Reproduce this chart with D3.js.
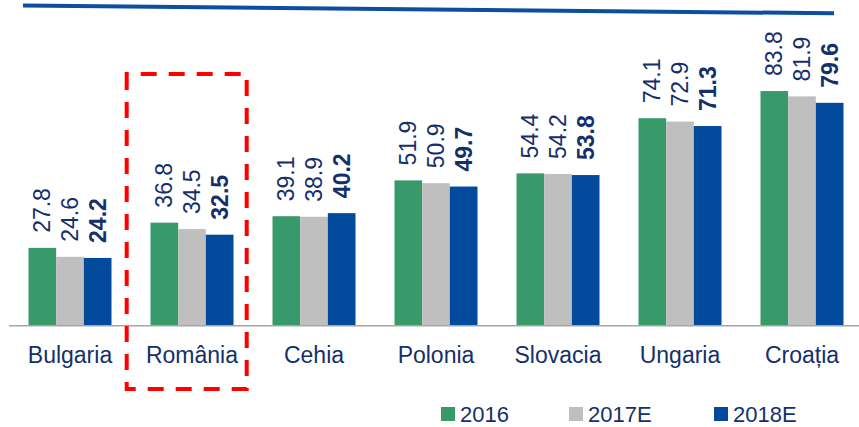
<!DOCTYPE html>
<html>
<head>
<meta charset="utf-8">
<script src="https://cdn.jsdelivr.net/npm/d3@7"></script>
<style>
  body { margin: 0; background: #fff; }
  text { font-family: "Liberation Sans", Arial, sans-serif; }
</style>
</head>
<body>
<div id="chart"></div>
<script>
const categories = ["Bulgaria", "România", "Cehia", "Polonia", "Slovacia", "Ungaria", "Croația"];
const seriesNames = ["2016", "2017E", "2018E"];
const values2016 = [27.8, 36.8, 39.1, 51.9, 54.4, 74.1, 83.8];
const values2017E = [24.6, 34.5, 38.9, 50.9, 54.2, 72.9, 81.9];
const values2018E = [24.2, 32.5, 40.2, 49.7, 53.8, 71.3, 79.6];
const seriesColors = ["#38996A", "#BFBFBF", "#024A9C"];

const width = 859, height = 427;
const textColor = "#14306B";

const svg = d3.select("#chart").append("svg")
  .attr("width", width)
  .attr("height", height);

// decorative header line (slightly tilted, as in the slide)
svg.append("line")
  .attr("x1", 23).attr("y1", 5.5)
  .attr("x2", 834).attr("y2", 13.3)
  .attr("stroke", "#0B4EA2")
  .attr("stroke-width", 4);

const x = d3.scaleBand().domain(categories).range([9, 863]).padding(0);
const x1 = d3.scaleBand().domain(seriesNames).range([-41.5, 41.5]).padding(0);
const y = d3.scaleLinear().domain([0, 100]).range([325.7, 45.7]);

const table = categories.map((c, i) => ({
  category: c,
  vals: [values2016[i], values2017E[i], values2018E[i]]
}));

const groups = svg.selectAll(".group")
  .data(table)
  .enter().append("g")
  .attr("class", "group")
  .attr("transform", d => `translate(${x(d.category) + x.bandwidth() / 2},0)`);

// bars
groups.selectAll("rect")
  .data(d => d.vals.map((v, j) => ({ v, j })))
  .enter().append("rect")
  .attr("x", d => x1(seriesNames[d.j]))
  .attr("width", x1.bandwidth())
  .attr("y", d => y(d.v))
  .attr("height", d => y(0) - y(d.v))
  .attr("fill", d => seriesColors[d.j]);

// value labels, rotated
groups.selectAll("text.val")
  .data(d => d.vals.map((v, j) => ({ v, j })))
  .enter().append("text")
  .attr("class", "val")
  .attr("transform", d => `translate(${x1(seriesNames[d.j]) + x1.bandwidth() / 2},${y(d.v) - 15}) rotate(-90)`)
  .attr("dy", "0.35em")
  .attr("text-anchor", "start")
  .style("font-size", "23px")
  .style("font-weight", d => d.j === 2 ? "bold" : "normal")
  .attr("fill", textColor)
  .text(d => d.v.toFixed(1));

// baseline
svg.append("line")
  .attr("x1", 9).attr("x2", width)
  .attr("y1", y(0)).attr("y2", y(0))
  .attr("stroke", "#A6A6A6")
  .attr("stroke-width", 1.5);

// category labels
svg.selectAll(".cat")
  .data(categories)
  .enter().append("text")
  .attr("class", "cat")
  .attr("x", d => x(d) + x.bandwidth() / 2)
  .attr("y", 363)
  .attr("text-anchor", "middle")
  .style("font-size", "23px")
  .attr("fill", textColor)
  .text(d => d);

// dashed highlight around România
const rx = x("România") + x.bandwidth() / 2;
svg.append("rect")
  .attr("x", rx - 65.3)
  .attr("y", 74)
  .attr("width", 120)
  .attr("height", 315)
  .attr("fill", "none")
  .attr("stroke", "#FF0000")
  .attr("stroke-width", 4)
  .attr("stroke-dasharray", "16,12")
  .attr("stroke-dashoffset", -14);

// legend
const legendX = [441, 569, 714];
const legend = svg.selectAll(".leg")
  .data(seriesNames)
  .enter().append("g")
  .attr("class", "leg")
  .attr("transform", (d, i) => `translate(${legendX[i]},407)`);

legend.append("rect")
  .attr("width", 14).attr("height", 14)
  .attr("fill", (d, i) => seriesColors[i]);

legend.append("text")
  .attr("x", 19)
  .attr("y", 15)
  .style("font-size", "22px")
  .attr("fill", textColor)
  .text(d => d);
</script>
</body>
</html>
